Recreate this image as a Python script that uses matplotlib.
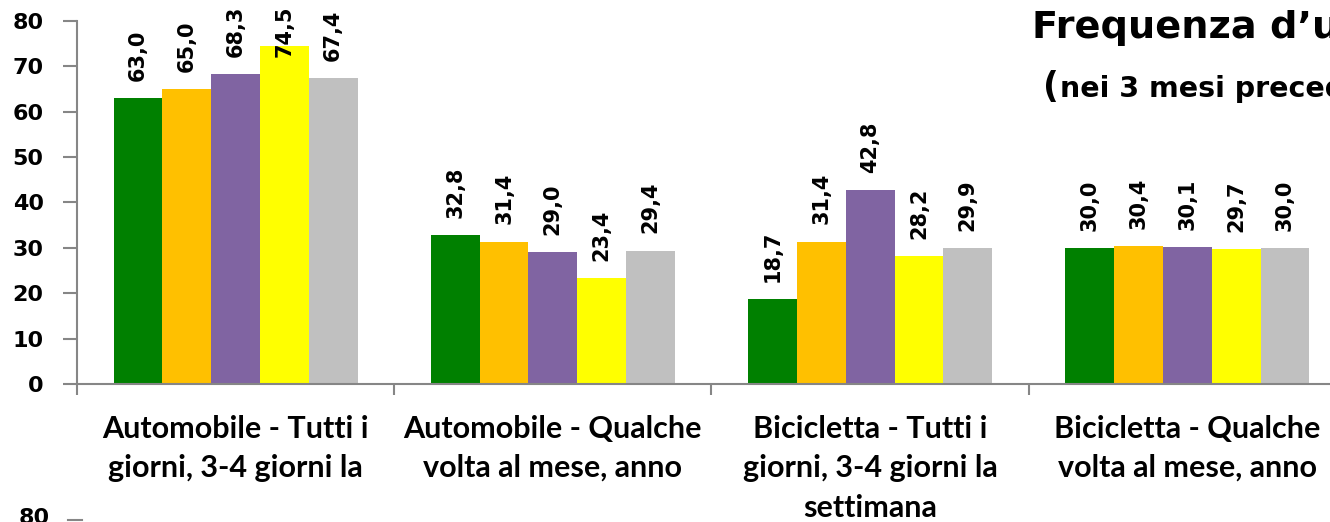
import matplotlib
matplotlib.use("Agg")
import matplotlib.pyplot as plt
from matplotlib.patches import Rectangle
import numpy as np

# data
categories = [
    "Automobile - Tutti i\ngiorni, 3-4 giorni la\nsettimana",
    "Automobile - Qualche\nvolta al mese, anno",
    "Bicicletta - Tutti i\ngiorni, 3-4 giorni la\nsettimana",
    "Bicicletta - Qualche\nvolta al mese, anno",
]
series_names = ["Serie 1", "Serie 2", "Serie 3", "Serie 4", "Serie 5"]
series_values = [
    [63.0, 32.8, 18.7, 30.0],
    [65.0, 31.4, 31.4, 30.4],
    [68.3, 29.0, 42.8, 30.1],
    [74.5, 23.4, 28.2, 29.7],
    [67.4, 29.4, 29.9, 30.0],
]
colors = ["#008000", "#FFC000", "#8064A2", "#FFFF00", "#C0C0C0"]
y_ticks = [0, 10, 20, 30, 40, 50, 60, 70, 80]

W, H = 1330, 522


def fx(px):
    return px / W


def fy(py):
    return 1 - py / H


fig = plt.figure(figsize=(W / 100, H / 100), dpi=100)
ax = fig.add_axes([fx(77), fy(384), fx(1346) - fx(77), fy(21) - fy(384)])

n = len(series_values)
bw = 1 / (n + 1.5)  # Excel style gap width 150%
x = np.arange(len(categories))
label_gap = 3.8
label_len = 10.8
label_ceiling = 83.5  # labels that would run off the top get pushed down

for i, (name, vals) in enumerate(zip(series_names, series_values)):
    xs = x + (i - (n - 1) / 2) * bw
    ax.bar(xs, vals, width=bw, color=colors[i], label=name, zorder=2)
    for xi, v in zip(xs, vals):
        txt = f"{v:.1f}".replace(".", ",")
        kw = dict(rotation=90, ha="center", fontsize=15, fontweight="bold",
                  family="DejaVu Sans", clip_on=False, zorder=3)
        if v + label_gap + label_len > label_ceiling:
            ax.text(xi, label_ceiling, txt, va="top", **kw)
        else:
            ax.text(xi, v + label_gap, txt, va="bottom", **kw)

ax.set_xlim(-0.5, len(categories) - 0.5)
ax.set_ylim(0, 80)
for s in ["top", "right"]:
    ax.spines[s].set_visible(False)
for s in ["left", "bottom"]:
    ax.spines[s].set_color("#868686")
    ax.spines[s].set_linewidth(1.5)

ax.set_yticks(y_ticks)
ax.set_yticklabels([str(t) for t in y_ticks], fontsize=16, fontweight="bold",
                   family="DejaVu Sans")
ax.tick_params(axis="y", length=10, width=1.5, color="#868686", pad=14)

ax.set_xticks(np.arange(len(categories) + 1) - 0.5)
ax.set_xticklabels([])
ax.tick_params(axis="x", which="major", length=8, width=1.5, color="#868686")
ax.set_xticks(x, minor=True)
ax.set_xticklabels(categories, minor=True, fontsize=22, fontweight="bold",
                   family="Lato", linespacing=1.5)
ax.tick_params(axis="x", which="minor", length=0, pad=22)

fig.text(fx(1032), fy(38), "Frequenza d\u2019uso", fontsize=27.5,
         fontweight="bold", family="DejaVu Sans", va="baseline")
fig.text(fx(1043), fy(97), "(", fontsize=25, fontweight="bold",
         family="DejaVu Sans", va="baseline")
fig.text(fx(1060), fy(97), "nei 3 mesi precedenti l\u2019intervista)",
         fontsize=20.5, fontweight="bold", family="DejaVu Sans",
         va="baseline")

# top of the next chart on the page, overlapping this one
fig.add_artist(Rectangle((0, 0), fx(700), fy(490), transform=fig.transFigure,
                         facecolor="white", edgecolor="none", zorder=10))
fig.text(fx(50), fy(508), "80", fontsize=16, fontweight="bold",
         family="DejaVu Sans", ha="right", va="top", zorder=11)
fig.add_artist(plt.Line2D([fx(68), fx(82)], [fy(520), fy(520)],
                          transform=fig.transFigure, color="#868686",
                          lw=1.5, zorder=11))

fig.savefig("out.png", dpi=100)
